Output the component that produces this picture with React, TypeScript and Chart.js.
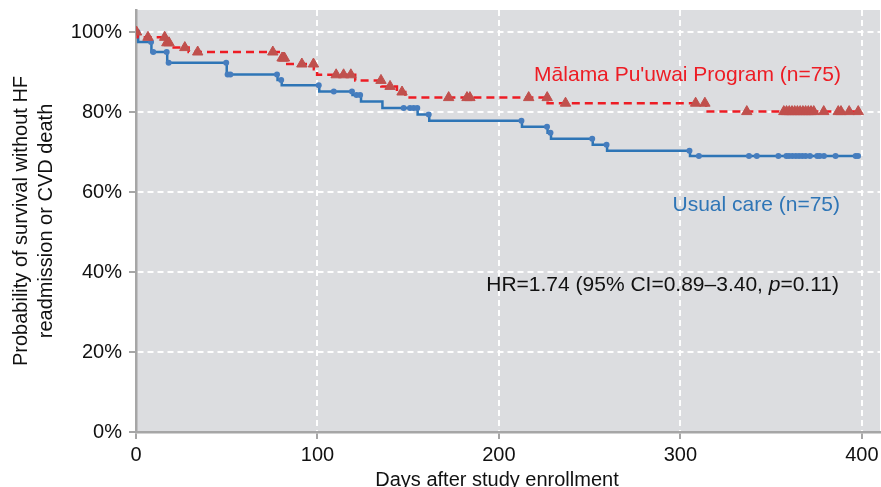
import { useEffect, useRef } from "react";
import { Chart, registerables } from "chart.js";

Chart.register(...registerables);

// ---------- data ----------
const xTickValues = [0, 100, 200, 300, 400];
const yTickValues = [0, 20, 40, 60, 80, 100];

// Usual care: Kaplan-Meier step (day of drop, survival % after the drop)
const usualStepDays = [0, 1.2, 8.5, 17.2, 50, 78, 80.3, 101, 119.3, 124, 135.8, 155.2, 161.6, 212.7, 226.8, 228.7, 251.7, 259.6, 305.3, 398];
const usualStepSurv = [100, 97.5, 95.0, 92.3, 89.4, 88.0, 86.7, 85.1, 84.25, 82.6, 81.0, 79.4, 77.8, 76.3, 74.8, 73.3, 71.8, 70.3, 69.0, 69.0];
const usualCensorDays = [0.8, 8.3, 9.5, 16.9, 18, 49.7, 50.5, 52, 77.7, 80, 100.7, 109, 119, 121.5, 123.5, 147.5, 151, 153, 155, 161.3, 212.4, 226.5, 228.4, 251.4, 259.3, 305, 310.2, 337.8, 342.1, 354, 358.4, 359.9, 361.7, 363.6, 365.4, 367.2, 369, 371.4, 375.4, 376.8, 379.1, 385.5, 396.6, 397.9];

// Malama Pu'uwai Program
const malamaStepDays = [0, 1, 16, 18.5, 29, 80, 82, 98, 99.8, 120.8, 135.2, 143.8, 148.4, 226.8, 314.2, 398];
const malamaStepSurv = [100, 98.67, 97.3, 96.1, 95.0, 93.5, 92.0, 90.7, 89.3, 87.9, 86.4, 85.0, 83.6, 82.2, 80.1, 80.1];
const malamaCensorDays = [0.3, 6.6, 15.8, 17, 18.2, 26.9, 34, 75.4, 80.5, 81.2, 81.8, 91.4, 97.8, 110.3, 114.4, 118.4, 135, 140, 146.6, 172.3, 182.4, 184, 216.4, 226.6, 236.7, 308.4, 313.5, 336.6, 357, 358.5, 360, 361.5, 363, 364.5, 366, 367.5, 369, 370.5, 372, 373.5, 379, 387, 388.5, 393, 398];

const malamaLabel = "Mālama Pu'uwai Program (n=75)";
const usualLabel = "Usual care (n=75)";
const hrTextParts = ["HR=1.74 (95% CI=0.89–3.40, ", "p", "=0.11)"];
const yTitleLines = ["Probability of survival without HF", "readmission or CVD death"];
const xTitle = "Days after study enrollment";

// ---------- helpers ----------
const survAt = (days: number[], surv: number[], t: number) => {
  let v = surv[0];
  for (let i = 0; i < days.length; i++) if (days[i] <= t) v = surv[i];
  return v;
};
const stepPoints = (days: number[], surv: number[]) => days.map((d, i) => ({ x: d, y: surv[i] }));
const censorPoints = (cd: number[], days: number[], surv: number[]) => cd.map((d) => ({ x: d, y: survAt(days, surv, d) }));

const FONT = "'Liberation Sans', Arial, sans-serif";
const RED_LINE = "rgb(237,28,36)";
const RED_MARK = "rgb(192,80,77)";
const BLUE_LINE = "rgb(46,117,182)";
const BLUE_MARK = "rgb(70,125,190)";
const AXIS_GRAY = "#a6a6a6";

const zeroPadding = (axis: any) => {
  axis.paddingTop = 0;
  axis.paddingBottom = 0;
  axis.paddingLeft = 0;
  axis.paddingRight = 0;
};

const decorPlugin = {
  id: "decor",
  beforeDraw(chart: any) {
    const { ctx, chartArea: a } = chart;
    ctx.save();
    ctx.fillStyle = "#dcdde0";
    ctx.fillRect(a.left, a.top, a.right - a.left, a.bottom - a.top);
    ctx.restore();
  },
  afterDraw(chart: any) {
    const { ctx } = chart;
    ctx.save();
    // annotations
    ctx.font = `21px ${FONT}`;
    ctx.textAlign = "right";
    ctx.textBaseline = "alphabetic";
    ctx.fillStyle = RED_LINE;
    ctx.fillText(malamaLabel, 841, 81);
    ctx.fillStyle = BLUE_LINE;
    ctx.fillText(usualLabel, 840, 211);

    // HR text with italic p
    ctx.fillStyle = "#111";
    const fonts = [`21px ${FONT}`, `italic 21px ${FONT}`, `21px ${FONT}`];
    const widths = hrTextParts.map((s, i) => {
      ctx.font = fonts[i];
      return ctx.measureText(s).width;
    });
    const total = widths.reduce((a: number, b: number) => a + b, 0);
    let x = 839 - total;
    ctx.textAlign = "left";
    hrTextParts.forEach((s, i) => {
      ctx.font = fonts[i];
      ctx.fillText(s, x, 291);
      x += widths[i];
    });

    // axis titles
    ctx.font = `20px ${FONT}`;
    ctx.fillStyle = "#111";
    ctx.textAlign = "center";
    ctx.fillText(xTitle, 497, 486);
    ctx.save();
    ctx.translate(0, 221);
    ctx.rotate(-Math.PI / 2);
    ctx.textBaseline = "middle";
    ctx.fillText(yTitleLines[0], 0, 21);
    ctx.fillText(yTitleLines[1], 0, 46);
    ctx.restore();
    ctx.restore();
  },
};

export default function App() {
  const ref = useRef<HTMLCanvasElement | null>(null);

  useEffect(() => {
    document.body.style.margin = "0";
    const canvas = ref.current!;
    Chart.defaults.font.family = FONT;
    const chart = new Chart(canvas, {
      type: "line",
      data: {
        datasets: [
          {
            label: "malamaCensor",
            data: censorPoints(malamaCensorDays, malamaStepDays, malamaStepSurv),
            showLine: false,
            pointStyle: "triangle",
            pointRadius: 6,
            pointBackgroundColor: RED_MARK,
            pointBorderColor: RED_MARK,
            pointBorderWidth: 1,
          },
          {
            label: "malama",
            data: stepPoints(malamaStepDays, malamaStepSurv),
            stepped: true,
            borderColor: RED_LINE,
            borderWidth: 2.5,
            borderDash: [8, 5],
            pointRadius: 0,
            fill: false,
          },
          {
            label: "usualCensor",
            data: censorPoints(usualCensorDays, usualStepDays, usualStepSurv),
            showLine: false,
            pointStyle: "circle",
            pointRadius: 3,
            pointBackgroundColor: BLUE_MARK,
            pointBorderColor: BLUE_MARK,
            pointBorderWidth: 0,
          },
          {
            label: "usual",
            data: stepPoints(usualStepDays, usualStepSurv),
            stepped: true,
            borderColor: BLUE_LINE,
            borderWidth: 2.5,
            pointRadius: 0,
            fill: false,
          },
        ],
      },
      options: {
        responsive: false,
        animation: false,
        events: [],
        layout: { autoPadding: false, padding: { top: 10, right: 1, left: 0, bottom: 0 } },
        plugins: { legend: { display: false }, tooltip: { enabled: false } },
        scales: {
          x: {
            type: "linear",
            min: 0,
            max: 410,
            afterFit: (axis: any) => {
              axis.height = 55;
              zeroPadding(axis);
            },
            afterBuildTicks: (axis: any) => {
              axis.ticks = xTickValues.map((v) => ({ value: v }));
            },
            ticks: {
              color: "#111",
              font: { size: 20, family: FONT },
              padding: 4,
              maxRotation: 0,
            },
            grid: {
              color: "rgba(255,255,255,0.95)",
              lineWidth: 2,
              tickColor: AXIS_GRAY,
              tickLength: 7,
              tickWidth: 2,
            },
            border: { display: true, color: AXIS_GRAY, width: 2.5, dash: [6, 4] },
          },
          y: {
            type: "linear",
            min: 0,
            max: 105.5,
            afterFit: (axis: any) => {
              axis.width = 136;
              zeroPadding(axis);
            },
            afterBuildTicks: (axis: any) => {
              axis.ticks = yTickValues.map((v) => ({ value: v }));
            },
            ticks: {
              color: "#111",
              font: { size: 20, family: FONT },
              padding: 7,
              callback: (v: any) => `${v}%`,
            },
            grid: {
              color: "rgba(255,255,255,0.95)",
              lineWidth: 2,
              tickColor: AXIS_GRAY,
              tickLength: 7,
              tickWidth: 2,
            },
            border: { display: true, color: AXIS_GRAY, width: 2.5, dash: [6, 4] },
          },
        },
      },
      plugins: [decorPlugin],
    });
    return () => chart.destroy();
  }, []);

  return <canvas ref={ref} width={881} height={487} style={{ display: "block" }} />;
}
